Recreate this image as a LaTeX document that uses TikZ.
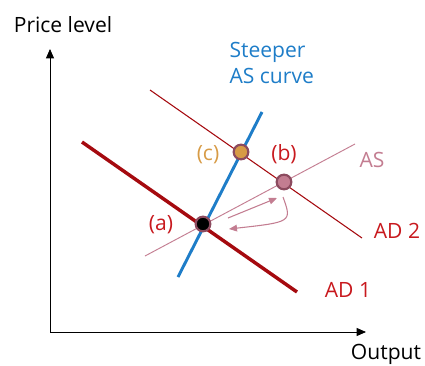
\documentclass[tikz,border=0pt]{standalone}
\usepackage{fontspec}
\setmainfont{Open Sans}
\usetikzlibrary{arrows.meta}
\begin{document}
\begin{tikzpicture}[x=0.75pt,y=-0.75pt,font=\fontsize{15.8}{19}\selectfont]
    \definecolor{mydarkred}{RGB}{165,10,15}
    \definecolor{mylabelred}{RGB}{200,25,30}
    \definecolor{myblue}{RGB}{30,125,200}
    \definecolor{mypink}{RGB}{195,125,145}
    \definecolor{myring}{RGB}{140,75,95}
    \definecolor{myorange}{RGB}{215,155,70}
    \tikzset{
        dot/.style={circle, inner sep=0pt, minimum size=11pt, draw=myring, line width=1.6pt},
        lbl/.style={inner sep=1pt}
    }
    \useasboundingbox (0,0) rectangle (425,365);

    % axes
    \draw[-{Triangle[length=7pt,width=6pt]}, line width=0.6pt] (50,332) -- (50,49);
    \draw[-{Triangle[length=7pt,width=6pt]}, line width=0.6pt] (50,332) -- (366,332);
    \node[lbl] (plevel) at (63,25) {Price level};
    \node[lbl] (output) at (386,354) {Output};

    % curves
    \draw[mypink, line width=0.7pt] (145,256) -- (355,144);
    \draw[mydarkred, line width=0.8pt] (150,90) -- (362,238);
    \draw[mydarkred, line width=2.6pt] (82,142) -- (297,292);
    \draw[myblue, line width=2.2pt] (178,277) -- (262,112);

    % equilibrium points
    \node[dot, fill=black] (a) at (203,224) {};
    \node[dot, fill=mypink] (b) at (284,182) {};
    \node[dot, fill=myorange] (c) at (241,152) {};

    % shifts
    \draw[mypink, line width=0.8pt, -{Triangle[length=6pt,width=5pt]}] (228,218) -- (277,198);
    \draw[mypink, line width=0.8pt, -{Triangle[length=6pt,width=5pt]}] (283,197) .. controls (292,222) .. (229,229);

    % labels
    \node[lbl, text=mylabelred] (alabel) at (161,225) {(a)};
    \node[lbl, text=mylabelred] (blabel) at (284,154) {(b)};
    \node[lbl, text=myorange] (clabel) at (208,155) {(c)};
    \node[lbl, text=mypink] (aslabel) at (372,160) {AS};
    \node[lbl, text=mylabelred] (ad2) at (397,231) {AD 2};
    \node[lbl, text=mylabelred] (ad1) at (348,290) {AD 1};
    \node[lbl, text=myblue, align=left, anchor=north west] (steep) at (228,41) {Steeper\\AS curve};
\end{tikzpicture}
\end{document}
